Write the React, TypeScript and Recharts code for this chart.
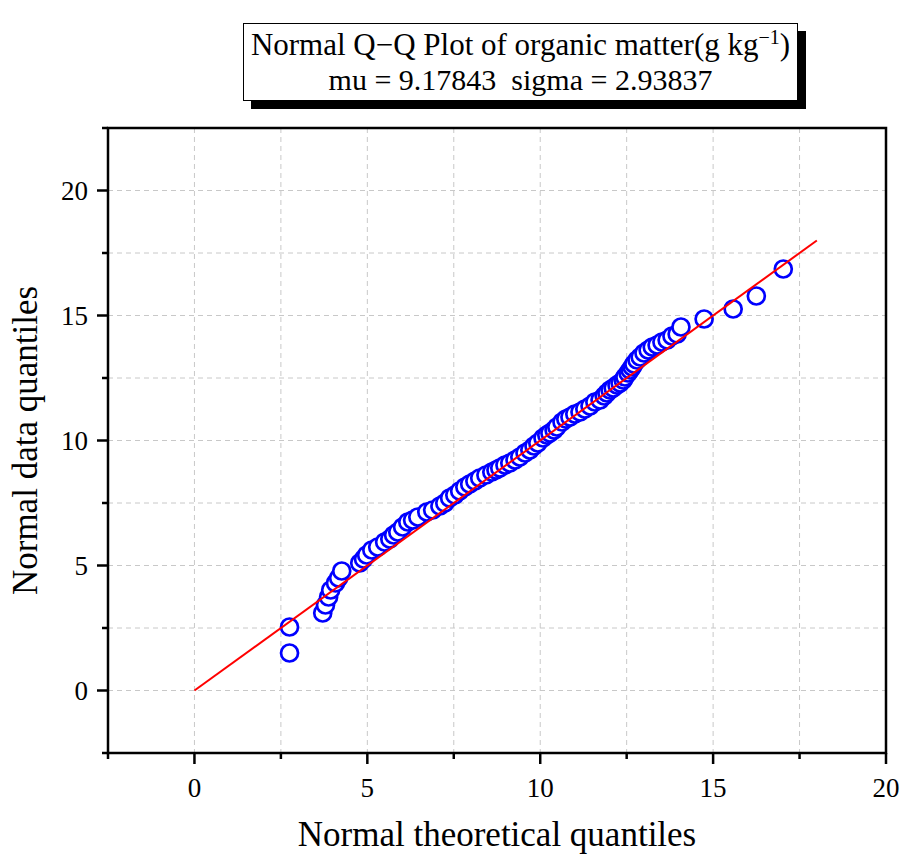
import React from 'react';
import { ScatterChart, Scatter, XAxis, YAxis, CartesianGrid, ReferenceArea } from 'recharts';

const theoretical = [
  2.75, 2.75, 3.71, 3.79, 3.88, 3.94, 4.08, 4.17, 4.26, 4.78,
  4.89, 4.98, 5.13, 5.30, 5.50, 5.65, 5.76, 5.88, 6.02, 6.17,
  6.31, 6.46, 6.72, 6.89, 7.10, 7.24, 7.38, 7.53, 7.67, 7.82,
  7.96, 8.11, 8.25, 8.43, 8.60, 8.72, 8.83, 8.98, 9.12, 9.27,
  9.41, 9.56, 9.70, 9.82, 9.93, 10.08, 10.19, 10.28, 10.40, 10.48,
  10.63, 10.74, 10.86, 11.00, 11.15, 11.29, 11.44, 11.58, 11.73, 11.85,
  11.93, 12.02, 12.11, 12.22, 12.31, 12.40, 12.45, 12.54, 12.60, 12.66,
  12.71, 12.80, 12.89, 13.00, 13.12, 13.24, 13.38, 13.52, 13.67, 13.81,
  13.96, 14.07, 14.74, 15.58, 16.25, 17.03,
];
const observed = [
  1.50, 2.54, 3.10, 3.42, 3.74, 4.02, 4.30, 4.50, 4.78, 5.10,
  5.26, 5.42, 5.62, 5.74, 5.94, 6.06, 6.22, 6.34, 6.54, 6.74,
  6.82, 6.94, 7.14, 7.22, 7.38, 7.50, 7.70, 7.82, 7.98, 8.14,
  8.26, 8.38, 8.50, 8.62, 8.74, 8.82, 8.90, 9.02, 9.10, 9.22,
  9.34, 9.50, 9.62, 9.78, 9.90, 10.10, 10.22, 10.30, 10.42, 10.54,
  10.74, 10.86, 10.94, 11.06, 11.14, 11.26, 11.38, 11.54, 11.62, 11.78,
  11.90, 12.02, 12.10, 12.22, 12.30, 12.42, 12.54, 12.70, 12.82, 12.94,
  13.06, 13.22, 13.34, 13.50, 13.62, 13.74, 13.82, 13.94, 14.02, 14.18,
  14.26, 14.54, 14.86, 15.26, 15.78, 16.86,
];
const refLineX = [0, 18];
const refLineY = [0, 18];
const xTicks = [-2.5, 0, 2.5, 5, 7.5, 10, 12.5, 15, 17.5, 20];
const yTicks = [-2.5, 0, 2.5, 5, 7.5, 10, 12.5, 15, 17.5, 20, 22.5];
const majorTicks = [0, 5, 10, 15, 20];
const xTitle = 'Normal theoretical quantiles';
const yTitle = 'Normal data quantiles';
const titleLine1 = 'Normal Q\u2212Q Plot of organic matter(g kg';
const titleSup = '\u22121';
const titleLine2 = 'mu = 9.17843  sigma = 2.93837';

const FONT = "'Liberation Serif', 'Times New Roman', serif";

const points = theoretical.map((x, i) => ({ x, y: observed[i] }));
const lineData = refLineX.map((x, i) => ({ x, y: refLineY[i] }));

const XTick = (props: any) => {
  const { x, y, payload } = props;
  const v = payload.value;
  const major = majorTicks.includes(v);
  return (
    <g>
      <line x1={x} x2={x} y1={y} y2={y + (major ? 11 : 6)} stroke="#000" strokeWidth={2.5} />
      {major && (
        <text x={x} y={y + 44} textAnchor="middle" fontFamily={FONT} fontSize={27} fill="#000">
          {v}
        </text>
      )}
    </g>
  );
};

const YTick = (props: any) => {
  const { x, y, payload } = props;
  const v = payload.value;
  const major = majorTicks.includes(v);
  return (
    <g>
      <line x1={x} x2={x - (major ? 11 : 6)} y1={y} y2={y} stroke="#000" strokeWidth={2.5} />
      {major && (
        <text x={x - 20} y={y + 9} textAnchor="end" fontFamily={FONT} fontSize={27} fill="#000">
          {v}
        </text>
      )}
    </g>
  );
};

const Circle = (props: any) => (
  <circle cx={props.cx} cy={props.cy} r={8.5} fill="#fff" stroke="#0000ff" strokeWidth={2.7} />
);

const XLabel = (props: any) => {
  const vb = props.viewBox;
  return (
    <text x={vb.x + vb.width / 2} y={vb.y + 93} textAnchor="middle" fontFamily={FONT} fontSize={35} fill="#000">
      {xTitle}
    </text>
  );
};

const YLabel = (props: any) => {
  const vb = props.viewBox;
  const cx = vb.x + 37;
  const cy = vb.y + vb.height / 2;
  return (
    <text x={cx} y={cy} transform={`rotate(-90 ${cx} ${cy})`} textAnchor="middle" fontFamily={FONT} fontSize={35} fill="#000">
      {yTitle}
    </text>
  );
};

export default function App() {
  return (
    <div style={{ position: 'absolute', left: 0, top: 0, width: 902, height: 857, background: '#fff' }}>
      <ScatterChart width={902} height={857} margin={{ top: 128, right: 16, bottom: 0, left: 0 }}>
        <CartesianGrid stroke="#c8c8c8" strokeDasharray="5 4" strokeWidth={1} />
        <XAxis
          type="number"
          dataKey="x"
          domain={[-2.5, 20]}
          ticks={xTicks}
          allowDataOverflow
          axisLine={false}
          tickLine={false}
          tickSize={0}
          tickMargin={0}
          height={104}
          tick={<XTick />}
          interval={0}
          label={<XLabel />}
        />
        <YAxis
          type="number"
          dataKey="y"
          domain={[-2.5, 22.5]}
          ticks={yTicks}
          allowDataOverflow
          axisLine={false}
          tickLine={false}
          tickSize={0}
          tickMargin={0}
          width={108}
          tick={<YTick />}
          interval={0}
          label={<YLabel />}
        />
        <ReferenceArea x1={-2.5} x2={20} y1={-2.5} y2={22.5} fill="none" stroke="#000" strokeWidth={2.5} />
        <Scatter data={points} shape={<Circle />} isAnimationActive={false} />
        <Scatter data={lineData} line={{ stroke: '#ff0000', strokeWidth: 2 }} shape={() => <g />} isAnimationActive={false} />
      </ScatterChart>
      <div
        style={{
          position: 'absolute',
          left: 243,
          top: 23,
          width: 553,
          height: 76,
          border: '1.5px solid #000',
          boxShadow: '8px 8px 0 #000',
          background: '#fff',
          fontFamily: FONT,
          fontSize: 31,
          color: '#000',
          textAlign: 'center',
          display: 'flex',
          flexDirection: 'column',
          justifyContent: 'center',
          lineHeight: '35px',
        }}
      >
        <div style={{ whiteSpace: 'pre' }}>
          {titleLine1}
          <sup style={{ fontSize: 20, lineHeight: 0 }}>{titleSup}</sup>)
        </div>
        <div style={{ whiteSpace: 'pre', fontSize: 30 }}>{titleLine2}</div>
      </div>
    </div>
  );
}
